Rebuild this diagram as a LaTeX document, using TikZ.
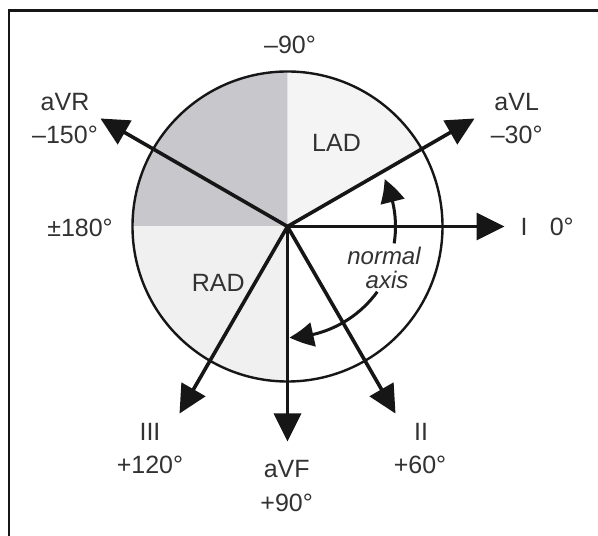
\documentclass[tikz,border=0pt]{standalone}
\usepackage{fontspec}
\setmainfont{Liberation Sans}
\usetikzlibrary{arrows.meta,bending}
\definecolor{darkq}{RGB}{200,200,204}
\definecolor{lightq}{RGB}{240,240,240}
\definecolor{ladq}{RGB}{244,244,244}
\definecolor{ink}{RGB}{22,22,22}
\definecolor{txt}{RGB}{50,50,50}
\begin{document}
\begin{tikzpicture}[x=1pt,y=1pt,
  lbl/.style={font=\fontsize{25}{28}\selectfont, text=txt, inner sep=0pt},
  ilbl/.style={font=\fontsize{24}{24}\selectfont\itshape, text=txt, inner sep=0pt, align=center},
  leadaxis/.style={draw=ink, line width=3.6pt, -{Triangle[length=28pt,width=27pt]}},
  normarr/.style={draw=ink, line width=3pt, -{Triangle[length=24pt,width=24pt,bend]}},
  ring/.style={draw=ink, line width=2.4pt},
  framebox/.style={draw=ink, line width=2.4pt}]
\useasboundingbox (0,0) rectangle (598,536);
\clip (0,0) rectangle (598,536);
\fill[white] (0,0) rectangle (598,536);
\draw[framebox] (9,525.3) rectangle (640,-40);
\coordinate (C) at (287.5,309.5);
% shaded sectors
\fill[darkq] (C) -- ++(180:155) arc[start angle=180,end angle=90,radius=155] -- cycle;
\fill[ladq] (C) -- ++(90:155) arc[start angle=90,end angle=30,radius=155] -- cycle;
\fill[lightq] (C) -- ++(180:155) arc[start angle=180,end angle=270,radius=155] -- cycle;
\draw[ring] (C) circle[radius=155];
% axis tips
\path (C) ++(0:217) coordinate (tI);
\path (C) ++(30:216) coordinate (tL);
\path (C) ++(150:216) coordinate (tR);
\path (C) ++(-60:216) coordinate (tII);
\path (C) ++(-90:215) coordinate (tF);
\path (C) ++(-120:216) coordinate (tIII);
\draw[leadaxis] (C) -- (tI);
\draw[leadaxis] (C) -- (tL);
\draw[leadaxis] (C) -- (tR);
\draw[leadaxis] (C) -- (tII);
\draw[leadaxis] (C) -- (tF);
\draw[leadaxis] (C) -- (tIII);
% normal axis arcs
\draw[normarr] (C) ++(-9:108) arc[start angle=-9,end angle=26,radius=108];
\draw[normarr] (C) ++(-36:111) arc[start angle=-36,end angle=-89,radius=111];
% labels
\node[lbl] (m90) at (290,491) {–90°};
\node[lbl] (avr) at (65,434.3) {aVR};
\node[lbl] (m150) at (65,401) {–150°};
\node[lbl] (avl) at (516.7,434.3) {aVL};
\node[lbl] (m30) at (516.7,401) {–30°};
\node[lbl] (pm180) at (80,308) {±180°};
\node[lbl] (lI) at (524,309.3) {I};
\node[lbl] (z0) at (561.7,309.3) {0°};
\node[lbl] (lad) at (336.5,392.7) {LAD};
\node[lbl] (rad) at (218.3,253.3) {RAD};
\node[lbl] (lIII) at (150,104.3) {III};
\node[lbl] (p120) at (150,71) {+120°};
\node[lbl] (lII) at (421,104.3) {II};
\node[lbl] (p60) at (420,71) {+60°};
\node[lbl] (avf) at (286.7,66.7) {aVF};
\node[lbl] (p90) at (286.7,33.3) {+90°};
\node[ilbl] (nrm) at (384,268.5) {normal\\\hspace*{6pt}axis};
\end{tikzpicture}
\end{document}
